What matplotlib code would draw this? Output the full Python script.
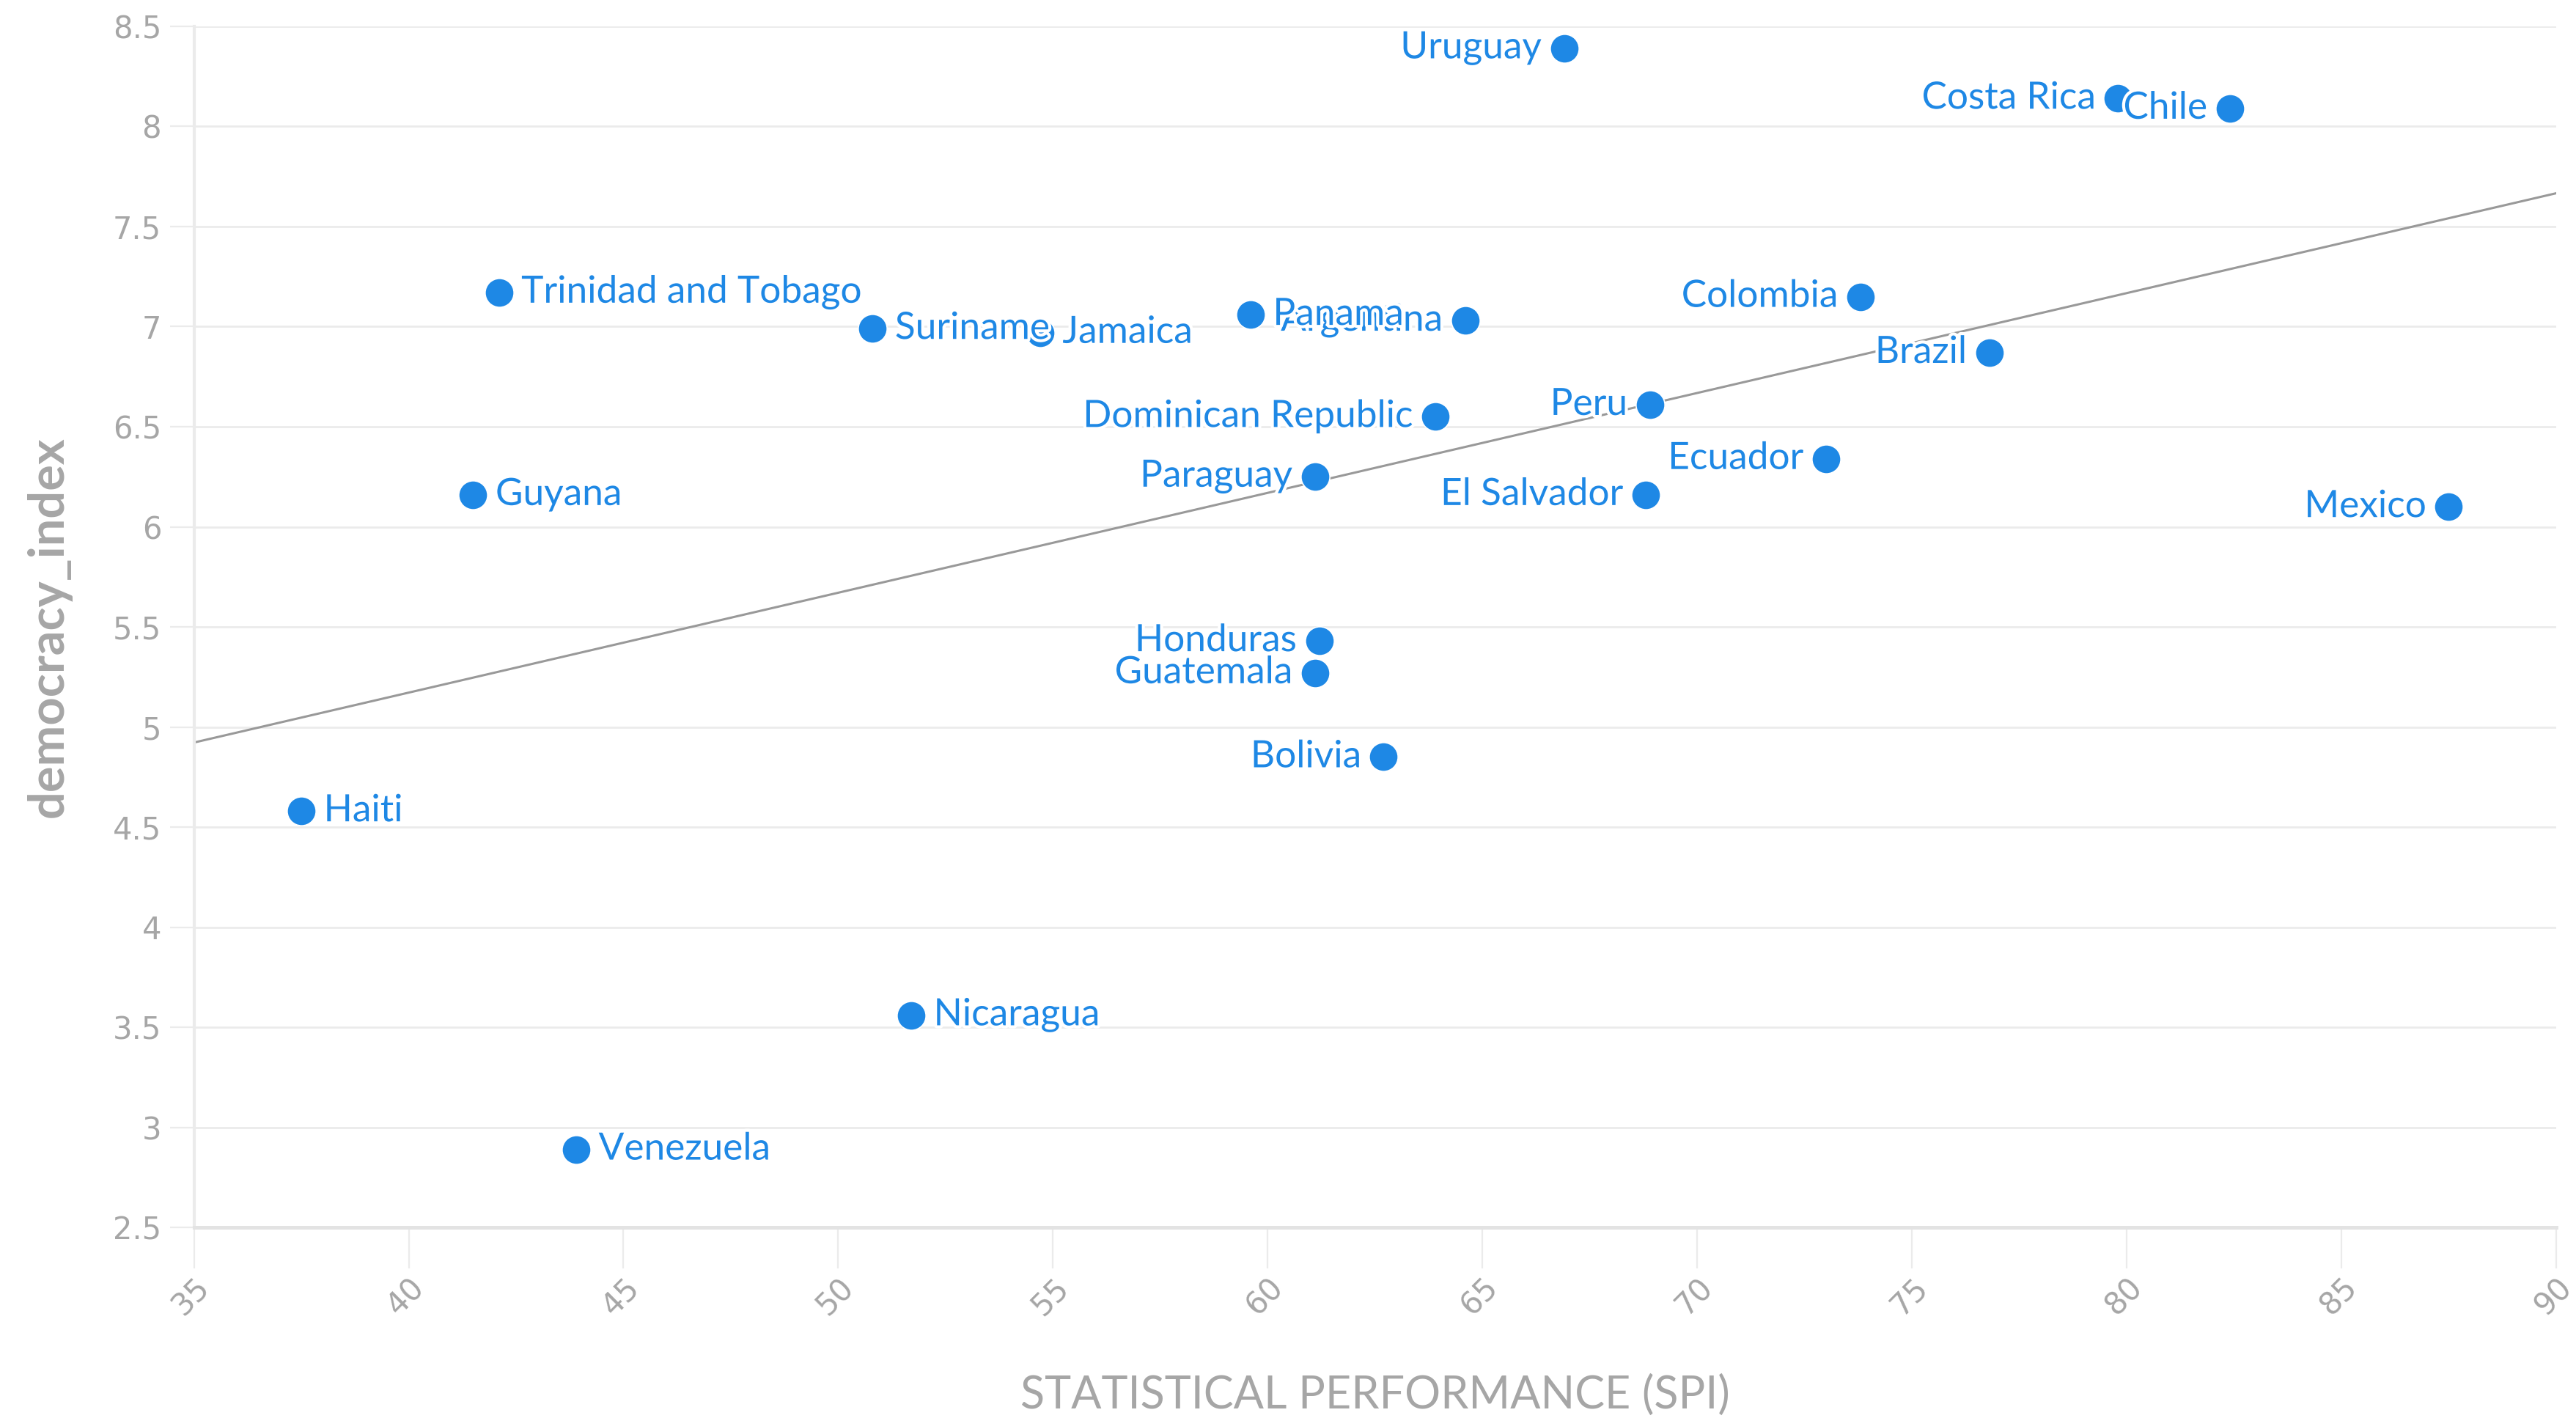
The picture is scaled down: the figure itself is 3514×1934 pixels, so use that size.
import numpy as np
import matplotlib
matplotlib.use("Agg")
import matplotlib.pyplot as plt
import matplotlib.patheffects as pe

countries = ["Uruguay", "Costa Rica", "Chile", "Trinidad and Tobago", "Suriname",
             "Jamaica", "Panama", "Argentina", "Colombia", "Brazil",
             "Dominican Republic", "Peru", "Paraguay", "El Salvador", "Ecuador",
             "Mexico", "Guyana", "Honduras", "Guatemala", "Bolivia",
             "Haiti", "Nicaragua", "Venezuela"]
spi = [66.9, 79.8, 82.4, 42.1, 50.8,
       54.7, 59.6, 64.6, 73.8, 76.8,
       63.9, 68.9, 61.1, 68.8, 73.0,
       87.5, 41.5, 61.2, 61.1, 62.7,
       37.5, 51.7, 43.9]
democracy = [8.39, 8.14, 8.09, 7.17, 6.99,
             6.97, 7.06, 7.03, 7.15, 6.87,
             6.55, 6.61, 6.25, 6.16, 6.34,
             6.10, 6.16, 5.43, 5.27, 4.85,
             4.58, 3.56, 2.89]
# which side the name sits on
label_right = ["Trinidad and Tobago", "Suriname", "Jamaica", "Panama",
               "Guyana", "Haiti", "Nicaragua", "Venezuela"]

blue = "#1e88e5"
grey = "#a6a6a6"

fig = plt.figure(figsize=(17.57, 9.67), dpi=200)
ax = fig.add_axes([0.0753, 0.1344, 0.9170, 0.8470])

# trend line
slope, intercept = np.polyfit(spi, democracy, 1)
xs = np.array([35, 90])
ax.plot(xs, slope * xs + intercept, color="#999999", lw=1.1, zorder=2)

ax.scatter(spi, democracy, s=200, color=blue, edgecolor="white", linewidth=0.6, zorder=3)
halo = [pe.withStroke(linewidth=3, foreground="white")]
for name, x, y in zip(countries, spi, democracy):
    if name in label_right:
        ax.annotate(name, (x, y), xytext=(11, 0), textcoords="offset points",
                    ha="left", va="center", color=blue, fontsize=18.5, family="Lato",
                    zorder=5, path_effects=halo)
    else:
        ax.annotate(name, (x, y), xytext=(-11, 0), textcoords="offset points",
                    ha="right", va="center", color=blue, fontsize=18.5, family="Lato",
                    zorder=4, path_effects=halo)

ax.set_xlim(35, 90)
ax.set_ylim(2.5, 8.5)
ax.set_xticks(np.arange(35, 91, 5))
ax.set_yticks(np.arange(2.5, 8.51, 0.5))
ax.set_yticklabels([("%g" % v) for v in np.arange(2.5, 8.51, 0.5)])
ax.grid(axis="y", color="#ebebeb", lw=1.0)
ax.set_axisbelow(True)
for s in ["top", "right"]:
    ax.spines[s].set_visible(False)
ax.spines["left"].set_color("#ebebeb")
ax.spines["left"].set_linewidth(1.5)
ax.spines["bottom"].set_color("#e3e3e3")
ax.spines["bottom"].set_linewidth(1.8)
ax.tick_params(axis="y", length=12, color="#ebebeb", labelcolor=grey, labelsize=15, pad=4)
ax.tick_params(axis="x", length=20, color="#ebebeb", labelcolor=grey, labelsize=15, pad=2)
for lab in ax.get_yticklabels() + ax.get_xticklabels():
    lab.set_family("DejaVu Sans")
plt.setp(ax.get_xticklabels(), rotation=45, ha="right", va="top", rotation_mode="anchor")

ax.set_ylabel("democracy_index", fontsize=24, fontweight="bold", color=grey, family="Lato", labelpad=20)
ax.set_xlabel("STATISTICAL PERFORMANCE (SPI)", fontsize=22, color=grey, family="Lato", labelpad=26)

fig.savefig("out.png", dpi=200)
